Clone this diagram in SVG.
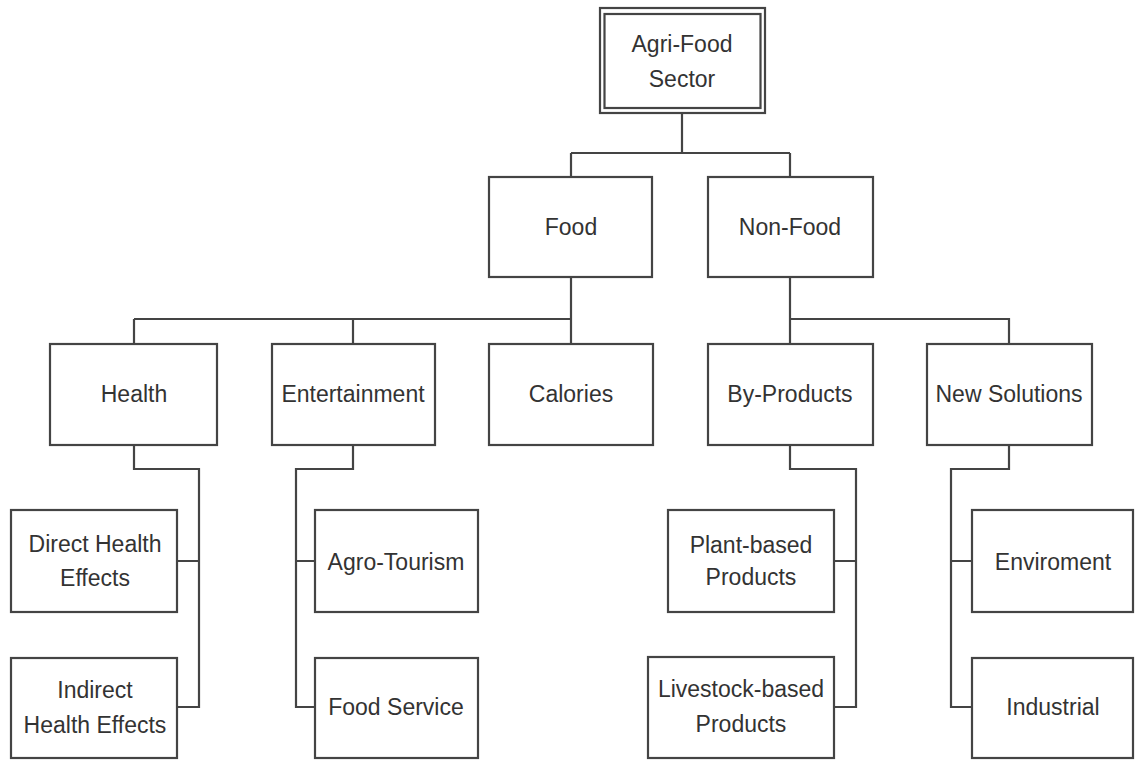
<svg xmlns="http://www.w3.org/2000/svg" width="1135" height="761" viewBox="0 0 1135 761">
<style>
.box{fill:#fff;stroke:#444;stroke-width:2.2}
.c{fill:none;stroke:#444;stroke-width:2.2}
text{font-family:"Liberation Sans",Arial,sans-serif;font-size:23px;fill:#333;text-anchor:middle}
</style>
<rect width="1135" height="761" fill="#fff"/>
<g id="connectors">
<path class="c" d="M682,113 V153 M571,153 H790 M571,153 V177 M790,153 V177"/>
<path class="c" d="M571,277 V344 M134,319 H571 M134,319 V344 M353,319 V344"/>
<path class="c" d="M790,277 V344 M790,319 H1009 V344"/>
<path class="c" d="M134,445 V469 H199 V707 H177 M199,561 H177"/>
<path class="c" d="M353,445 V469 H296 V707 H315 M296,561 H315"/>
<path class="c" d="M790,445 V469 H856 V707 H834 M856,561 H834"/>
<path class="c" d="M1009,445 V469 H951 V707 H972 M951,561 H972"/>
</g>
<g id="agri-food">
<rect class="box" x="600" y="8" width="165" height="105" stroke-width="2.6"/>
<rect class="box" x="604.5" y="14" width="156" height="94"/>
<text x="682" y="52">Agri-Food</text>
<text x="682" y="87">Sector</text>
</g>
<g id="food"><rect class="box" x="489" y="177" width="163" height="100"/><text x="571" y="235">Food</text></g>
<g id="non-food"><rect class="box" x="708" y="177" width="165" height="100"/><text x="790" y="235">Non-Food</text></g>
<g id="health"><rect class="box" x="50" y="344" width="167" height="101"/><text x="134" y="402">Health</text></g>
<g id="entertainment"><rect class="box" x="272" y="344" width="163" height="101"/><text x="353" y="402">Entertainment</text></g>
<g id="calories"><rect class="box" x="489" y="344" width="164" height="101"/><text x="571" y="402">Calories</text></g>
<g id="by-products"><rect class="box" x="708" y="344" width="165" height="101"/><text x="790" y="402">By-Products</text></g>
<g id="new-solutions"><rect class="box" x="927" y="344" width="165" height="101"/><text x="1009" y="402">New Solutions</text></g>
<g id="direct-health"><rect class="box" x="11" y="510" width="166" height="102"/><text x="95" y="552">Direct Health</text><text x="95" y="586">Effects</text></g>
<g id="indirect-health"><rect class="box" x="11" y="658" width="166" height="100"/><text x="95" y="698">Indirect</text><text x="95" y="733">Health Effects</text></g>
<g id="agro-tourism"><rect class="box" x="315" y="510" width="163" height="102"/><text x="396" y="570">Agro-Tourism</text></g>
<g id="food-service"><rect class="box" x="315" y="658" width="163" height="100"/><text x="396" y="715">Food Service</text></g>
<g id="plant-based"><rect class="box" x="668" y="510" width="166" height="102"/><text x="751" y="553">Plant-based</text><text x="751" y="585">Products</text></g>
<g id="livestock-based"><rect class="box" x="648" y="657" width="186" height="101"/><text x="741" y="697">Livestock-based</text><text x="741" y="732">Products</text></g>
<g id="enviroment"><rect class="box" x="972" y="510" width="161" height="102"/><text x="1053" y="570">Enviroment</text></g>
<g id="industrial"><rect class="box" x="972" y="658" width="161" height="100"/><text x="1053" y="715">Industrial</text></g>
</svg>
